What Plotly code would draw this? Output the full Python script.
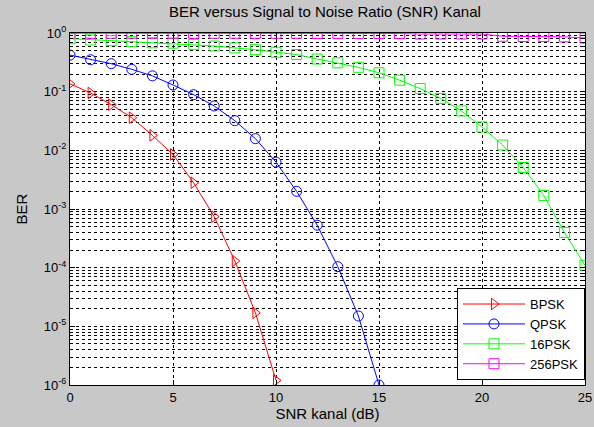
import plotly.graph_objects as go

snr_bpsk = list(range(0, 11))
ber_bpsk = [0.136, 0.095, 0.060, 0.036, 0.018, 0.0085, 0.0028, 7.4e-4, 1.3e-4, 1.7e-5, 1.2e-6]

snr_qpsk = list(range(0, 16))
ber_qpsk = [0.42, 0.35, 0.30, 0.24, 0.186, 0.13, 0.089, 0.057, 0.032, 0.0158,
            0.0063, 0.0020, 5.3e-4, 1.04e-4, 1.5e-5, 1.0e-6]

snr_16psk = list(range(0, 26))
ber_16psk = [0.80, 0.76, 0.74, 0.71, 0.68, 0.67, 0.64, 0.60, 0.556, 0.52,
             0.47, 0.43, 0.36, 0.31, 0.26, 0.21, 0.157, 0.113, 0.077, 0.047,
             0.025, 0.0123, 0.0051, 0.0017, 4.0e-4, 1.1e-4]

snr_256psk = list(range(0, 26))
ber_256psk = [0.99, 0.99, 0.99, 0.99, 0.99, 0.99, 0.99, 0.99, 0.99, 0.99,
              0.99, 0.99, 0.98, 0.98, 0.98, 0.98, 0.98, 0.96, 0.96, 0.96,
              0.96, 0.88, 0.87, 0.87, 0.86, 0.82]

ytick_vals = [1e-6, 1e-5, 1e-4, 1e-3, 1e-2, 1e-1, 1]
ytick_text = ["10<sup>-6</sup>", "10<sup>-5</sup>", "10<sup>-4</sup>", "10<sup>-3</sup>",
              "10<sup>-2</sup>", "10<sup>-1</sup>", "10<sup>0</sup>"]
xtick_vals = [0, 5, 10, 15, 20, 25]

series = [
    ("BPSK", snr_bpsk, ber_bpsk, "#ff0000", "triangle-right-open"),
    ("QPSK", snr_qpsk, ber_qpsk, "#0000ff", "circle-open"),
    ("16PSK", snr_16psk, ber_16psk, "#00ff00", "square-open"),
    ("256PSK", snr_256psk, ber_256psk, "#ff00ff", "square-open"),
]

fig = go.Figure()
for name, x, y, c, sym in series:
    fig.add_trace(go.Scatter(
        x=x, y=y, name=name, mode="lines+markers",
        line=dict(color=c, width=1),
        marker=dict(symbol=sym, size=10, color=c, line=dict(color=c, width=1)),
    ))

font = "Liberation Sans, Arial, sans-serif"
fig.update_layout(
    width=594, height=427,
    paper_bgcolor="#c8c8c8", plot_bgcolor="white",
    margin=dict(l=70, r=9, t=33, b=42, autoexpand=False),
    font=dict(family=font, size=12, color="black"),
    title=dict(text="BER versus Signal to Noise Ratio (SNR) Kanal",
               x=0.495, xref="paper", xanchor="center", y=0.985, yanchor="top",
               font=dict(size=15, family=font)),
    legend=dict(x=1, xanchor="right", y=0.014, yanchor="bottom",
                bgcolor="white", bordercolor="black", borderwidth=1,
                font=dict(size=13, family=font), tracegroupgap=0,
                itemwidth=62),
    xaxis=dict(
        range=[0, 25], tickvals=xtick_vals, ticks="inside", ticklen=5,
        tickcolor="black", showline=True, linecolor="black", linewidth=1,
        mirror="ticks", showgrid=True, gridcolor="black", griddash="3px,3px",
        gridwidth=1, zeroline=False, automargin=False,
        title=dict(text="SNR kanal (dB)", standoff=3, font=dict(size=15)),
        tickfont=dict(size=13),
    ),
    yaxis=dict(
        type="log", range=[-6, 0], tickvals=ytick_vals, ticktext=ytick_text,
        ticks="inside", ticklen=5, tickcolor="black",
        showline=True, linecolor="black", linewidth=1, mirror="ticks",
        showgrid=True, gridcolor="black", griddash="3px,3px", gridwidth=1,
        zeroline=False, automargin=False,
        minor=dict(dtick="D1", showgrid=True, gridcolor="black",
                   griddash="3px,3px", ticks="inside", ticklen=3, tickcolor="black"),
        title=dict(text="BER", standoff=12, font=dict(size=15)),
        tickfont=dict(size=13),
    ),
)

fig.write_html("out.html")
